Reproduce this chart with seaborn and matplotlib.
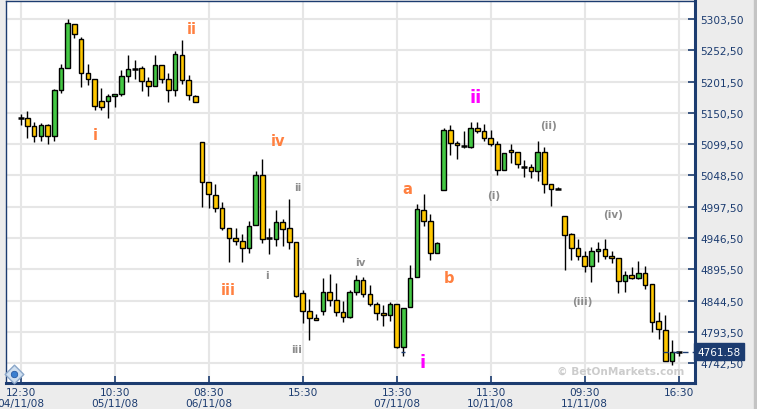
import matplotlib
matplotlib.use("Agg")
import matplotlib.pyplot as plt
import seaborn as sns
from matplotlib.patches import Rectangle

# OHLC data (one candle per period, index 0..98)
opens = [5142.7, 5141.7, 5128.7, 5113.3, 5130.3, 5113.3, 5187.3, 5223.2, 5294.9, 5270.4,
         5215.0, 5205.3, 5169.4, 5169.4, 5177.6, 5180.8, 5210.1, 5222.5, 5223.2, 5202.0,
         5193.8, 5228.1, 5205.3, 5187.3, 5244.4, 5203.6, 5177.6, 5102.6, 5037.4, 5016.2,
         4995.0, 4962.5, 4946.2, 4941.3, 4929.9, 4967.3, 5048.8, 4946.2, 4944.5, 4972.2,
         4962.9, 4939.6, 4856.5, 4827.2, 4815.8, 4827.2, 4858.2, 4845.1, 4825.6, 4817.4,
         4858.2, 4877.7, 4854.9, 4838.6, 4823.9, 4820.7, 4838.6, 4769.5, 4833.7, 4882.6,
         4991.8, 4973.9, 4921.7, 5024.4, 5122.1, 5101.0, 5096.6, 5095.4, 5125.4, 5121.5,
         5110.1, 5099.3, 5057.0, 5089.6, 5086.3, 5062.8, 5061.9, 5055.3, 5086.3, 5034.2,
         5026.0, 4983.0, 4952.7, 4929.9, 4917.8, 4901.5, 4925.0, 4928.2, 4916.8, 4913.6,
         4876.1, 4885.9, 4881.0, 4889.6, 4871.2, 4810.9, 4796.7, 4746.7, 4761.58]
closes = [5142.7, 5128.7, 5113.3, 5130.3, 5113.3, 5187.3, 5223.2, 5296.5, 5278.6, 5215.0,
          5205.3, 5162.2, 5160.6, 5177.6, 5180.8, 5210.1, 5221.5, 5222.5, 5202.0, 5193.8,
          5228.1, 5205.3, 5187.3, 5246.0, 5203.6, 5179.2, 5167.8, 5037.4, 5017.9, 4995.0,
          4962.5, 4946.2, 4941.8, 4929.9, 4966.7, 5048.8, 4944.5, 4946.2, 4972.2, 4960.8,
          4939.6, 4851.7, 4827.2, 4815.8, 4812.5, 4858.2, 4845.1, 4825.6, 4817.4, 4858.2,
          4877.7, 4854.9, 4838.6, 4823.9, 4820.7, 4838.6, 4769.5, 4833.4, 4882.0, 4993.4,
          4973.9, 4921.7, 4938.0, 5122.1, 5101.0, 5097.7, 5096.6, 5125.4, 5121.5, 5110.1,
          5099.3, 5057.0, 5084.7, 5086.3, 5066.7, 5062.8, 5055.3, 5086.3, 5034.2, 5026.0,
          5026.0, 4951.1, 4929.9, 4917.8, 4900.5, 4925.0, 4928.7, 4916.8, 4913.6, 4876.1,
          4885.9, 4881.0, 4889.6, 4870.1, 4809.3, 4797.9, 4746.7, 4761.4, 4761.58]
highs = [5148.2, 5153.6, 5135.2, 5134.0, 5132.9, 5189.4, 5229.7, 5303.5, 5294.9, 5274.2,
         5229.7, 5205.3, 5190.6, 5181.3, 5180.8, 5220.4, 5244.8, 5236.7, 5226.9, 5208.5,
         5244.8, 5228.1, 5215.5, 5251.4, 5269.3, 5212.3, 5179.2, 5102.6, 5037.4, 5034.2,
         5004.8, 4962.5, 4962.9, 4953.2, 4973.9, 5055.3, 5074.9, 4962.9, 4991.8, 4977.6,
         5010.2, 4939.6, 4861.9, 4847.2, 4822.3, 4881.5, 4888.0, 4873.3, 4844.0, 4861.4,
         4886.4, 4883.1, 4870.1, 4842.9, 4837.5, 4842.9, 4838.6, 4833.4, 4902.7, 5001.6,
         5017.9, 4985.8, 4939.6, 5125.4, 5130.8, 5104.7, 5120.5, 5135.2, 5135.2, 5131.9,
         5122.6, 5105.2, 5084.7, 5099.3, 5086.3, 5073.8, 5067.2, 5105.2, 5094.4, 5034.2,
         5030.2, 4983.0, 4954.8, 4945.0, 4926.0, 4932.5, 4939.6, 4945.0, 4925.5, 4913.6,
         4893.4, 4898.9, 4909.2, 4901.5, 4871.2, 4826.1, 4821.2, 4780.0, 4761.58]
lows = [5130.8, 5110.1, 5103.6, 5104.7, 5100.3, 5104.7, 5182.9, 5223.2, 5273.0, 5193.2,
        5196.0, 5155.2, 5155.2, 5142.7, 5160.6, 5178.5, 5201.3, 5205.7, 5186.7, 5178.0,
        5193.8, 5199.7, 5168.8, 5178.5, 5198.1, 5172.0, 5167.8, 4997.7, 4996.0, 4988.5,
        4960.2, 4908.0, 4935.2, 4908.0, 4922.7, 4967.3, 4939.0, 4921.1, 4934.1, 4934.1,
        4929.2, 4850.0, 4807.7, 4780.9, 4812.5, 4821.7, 4835.4, 4819.1, 4810.3, 4816.3,
        4854.3, 4850.0, 4836.3, 4813.5, 4803.7, 4811.9, 4767.4, 4754.4, 4833.7, 4882.6,
        4965.7, 4911.3, 4921.7, 5024.4, 5082.4, 5075.9, 5093.8, 5093.8, 5118.2, 5104.7,
        5097.1, 5049.8, 5057.0, 5068.4, 5060.2, 5046.0, 5044.4, 5039.0, 5019.5, 4998.3,
        5026.0, 4895.0, 4911.3, 4911.3, 4891.7, 4874.5, 4907.1, 4912.4, 4905.9, 4856.5,
        4858.2, 4879.8, 4879.8, 4863.5, 4794.0, 4781.6, 4746.7, 4739.7, 4754.9]

last_price = 4761.58

tick_pos = [0, 14, 28, 42, 56, 70, 84, 98]
tick_labels = ["12:30\n04/11/08", "10:30\n05/11/08", "08:30\n06/11/08", "15:30",
               "13:30\n07/11/08", "11:30\n10/11/08", "09:30\n11/11/08", "16:30"]
y_ticks = [4742.5 + 51 * k for k in range(12)]

# wave labels: (text, x index, price, kind)
wave_labels = [
    ("i", 11.1, 5116, "major"), ("ii", 25.5, 5288, "major"),
    ("iii", 30.9, 4862, "major"), ("iv", 38.3, 5105, "major"),
    ("a", 57.6, 5028, "major"), ("b", 63.8, 4883, "major"),
    ("ii", 67.7, 5176, "top"), ("i", 59.8, 4744, "top"),
    ("i", 36.7, 4887, "minor"), ("ii", 41.2, 5029, "minor"),
    ("iii", 41.1, 4766, "minor"), ("iv", 50.6, 4908, "minor"),
    ("(i)", 70.4, 5017, "minor"), ("(ii)", 78.6, 5130, "minor"),
    ("(iii)", 83.7, 4844, "minor"), ("(iv)", 88.2, 4985, "minor"),
]

navy = "#1c3c70"
up_col = "#44c844"
down_col = "#ffc800"

sns.set_theme(style="white")
plt.rcParams["font.family"] = ["DejaVu Sans"]

fig = plt.figure(figsize=(7.57, 4.10), dpi=100, facecolor="#ececec")
fig.patches.append(Rectangle((754 / 757, 0), 3 / 757, 1, transform=fig.transFigure,
                             color="#c4c4c4", zorder=0))
ax = fig.add_axes([6 / 757, 26 / 410, 689 / 757, 382 / 410])
ax.set_facecolor("white")

idx = list(range(len(opens)))

# grid
for t in tick_pos:
    ax.axvline(t, color="#e6e6e6", lw=1.5, zorder=0)
for v in y_ticks:
    ax.axhline(v, color="#e6e6e6", lw=1.5, zorder=0)

# wicks
ax.vlines(idx, lows, highs, color="black", lw=1.0, zorder=2)

# bodies
for i, o, c in zip(idx, opens, closes):
    if abs(c - o) < 0.05:
        ax.hlines(o, i - 0.45, i + 0.45, color="black", lw=1.8, zorder=3)
    else:
        col = up_col if c > o else down_col
        ax.bar(i, c - o, bottom=o, width=0.68, color=col, edgecolor="black",
               linewidth=1.0, zorder=3)

# last price line and tag
ax.hlines(last_price, 95.7, 100.43, color=navy, lw=1.0, linestyles=(0, (4, 3)), zorder=4)
ax.hlines(last_price, 56.6, 57.3, color=navy, lw=1.0, zorder=4)
ax.annotate(f"{last_price:.2f}", xy=(1.004, last_price),
            xycoords=("axes fraction", "data"), ha="left", va="center",
            fontsize=7.6, color="white", annotation_clip=False,
            bbox=dict(boxstyle="square,pad=0.32", fc=navy, ec=navy))

# wave count labels
styles = {
    "major": dict(color="#ff8040", fontsize=10.5, fontweight="bold"),
    "top": dict(color="#ff00ff", fontsize=13, fontweight="bold"),
    "minor": dict(color="#8c8c8c", fontsize=7.5, fontweight="bold"),
}
for txt, x, y, kind in wave_labels:
    ax.text(x, y, txt, ha="center", va="center", zorder=5, **styles[kind])

# watermark
ax.text(0.985, 0.031, "\u00a9 BetOnMarkets.com", transform=ax.transAxes, ha="right",
        va="center", fontsize=7.6, fontweight="bold", color="#cccccc", zorder=1)

# navigation icon at bottom left
sns.scatterplot(x=[0.011], y=[0.024], marker="D", s=90, color="#cfdff0",
                edgecolor="#8aa6c8", linewidth=1, transform=ax.transAxes, ax=ax,
                zorder=6, clip_on=False, legend=False)
sns.scatterplot(x=[0.011], y=[0.024], marker="o", s=22, color="#3a7fd0",
                edgecolor="#1c4f9a", linewidth=0.5, transform=ax.transAxes, ax=ax,
                zorder=7, clip_on=False, legend=False)

ax.set_xlim(-2.19, 100.43)
ax.set_ylim(4710.4, 5332.8)

ax.set_xticks(tick_pos)
ax.set_xticklabels(tick_labels, fontsize=7.6, color=navy, linespacing=1.15)
ax.yaxis.tick_right()
ax.set_yticks(y_ticks)
ax.set_yticklabels([f"{v:.2f}".replace(".", ",") for v in y_ticks], fontsize=7.6, color=navy)
ax.tick_params(axis="x", direction="in", length=5, width=1.2, color=navy, pad=3,
               bottom=True)
ax.tick_params(axis="y", direction="in", length=5, width=1.2, color=navy, pad=4,
               right=True, left=False)
ax.set_xlabel("")
ax.set_ylabel("")

for side, lw in (("left", 1.0), ("top", 1.0), ("right", 2.2), ("bottom", 2.2)):
    ax.spines[side].set_visible(True)
    ax.spines[side].set_color(navy)
    ax.spines[side].set_linewidth(lw)

fig.savefig("out.png", dpi=100, facecolor=fig.get_facecolor())
